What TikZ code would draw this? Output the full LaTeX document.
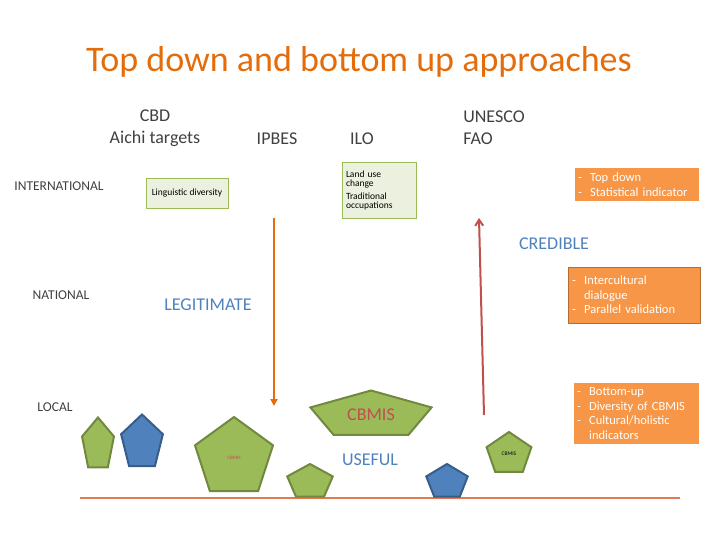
\documentclass[tikz,border=0pt]{standalone}
\usepackage{fontspec}
\setmainfont{Carlito}
\usetikzlibrary{shapes.geometric,positioning,arrows.meta}
\definecolor{titleor}{HTML}{E46C0A}
\definecolor{txtgray}{HTML}{404040}
\definecolor{accblue}{HTML}{4F81BD}
\definecolor{pgreen}{HTML}{9BBB59}
\definecolor{pgreenline}{HTML}{71893F}
\definecolor{pblueline}{HTML}{385D8A}
\definecolor{boxor}{HTML}{F79646}
\definecolor{boxorline}{HTML}{B66D31}
\definecolor{lightgreen}{HTML}{EBF1DE}
\definecolor{redarrow}{HTML}{C0504D}
\definecolor{textred}{HTML}{C0504D}
\tikzset{
  level/.style={text=txtgray, font=\fontsize{13.5}{15}\selectfont},
  body/.style={text=txtgray, font=\fontsize{18}{22}\selectfont, align=center},
  quality/.style={text=accblue, font=\fontsize{18}{20}\selectfont},
  gbox/.style={draw=pgreen, fill=lightgreen, line width=0.8pt, font=\fontsize{9.5}{9}\selectfont, align=left, inner sep=3pt},
  obox/.style={fill=boxor, text=white, font=\fontsize{12.5}{14.5}\selectfont, align=left, inner sep=3pt},
  pent/.style={regular polygon, regular polygon sides=5, inner sep=0pt, line width=2pt},
  gpent/.style={pent, fill=pgreen, draw=pgreenline},
  bpent/.style={pent, fill=accblue, draw=pblueline},
  pentlabel/.style={text=textred},
}
\begin{document}
\begin{tikzpicture}[x=1pt,y=-1pt]
  \useasboundingbox (0,0) rectangle (720,540);

  % title and headings
  \node (title) at (359,62) [text=titleor, font=\fontsize{36}{38}\selectfont] {Top down and bottom up approaches};
  \node (cbd) at (155,128) [body] {CBD\\Aichi targets};
  \node (ipbes) at (277,139) [body] {IPBES};
  \node (ilo) at (362,139) [body] {ILO};
  \node (unesco) at (494,128) [body, align=left] {UNESCO\\FAO};

  % levels
  \node (intl) at (59,186) [level] {INTERNATIONAL};
  \node (natl) at (61,295) [level] {NATIONAL};
  \node (locl) at (55,407) [level] {LOCAL};

  % green boxes
  \node (ling) at (187,193) [gbox, minimum width=82pt, minimum height=30pt] {Linguistic diversity};
  \node (land) at (379,190) [gbox, minimum width=74pt, minimum height=56pt, text width=66pt] {Land use\\change\\[4pt]Traditional\\occupations};

  % orange boxes
  \node (topd) at (637,184.5) [obox, minimum width=124pt, minimum height=33pt, text width=118pt] {-\ \ Top down\\-\ \ Statistical indicator};
  \node (inter) at (634,295) [obox, draw=boxorline, line width=1pt, minimum width=132pt, minimum height=56pt, text width=124pt] {-\ \ Intercultural\\\phantom{-\ \ }dialogue\\-\ \ Parallel validation};
  \node (botu) at (636.5,413.5) [obox, minimum width=125pt, minimum height=61pt, text width=119pt] {-\ \ Bottom-up\\-\ \ Diversity of CBMIS\\-\ \ Cultural/holistic\\\phantom{-\ \ }indicators};

  % qualities
  \node (cred) at (554,244) [quality] {CREDIBLE};
  \node (legit) at (208,305) [quality] {LEGITIMATE};
  \node (useful) at (370,460) [quality] {USEFUL};

  % arrows
  \coordinate (dtop) at (274,218);
  \coordinate (dbot) at (274,406);
  \draw [titleor, line width=2pt, -{Triangle[length=7pt,width=7pt]}] (dtop) -- (dbot);
  \coordinate (ubot) at (484,415);
  \coordinate (utop) at (479,218);
  \draw [redarrow, line width=2pt, -{Straight Barb[length=6pt,width=8pt]}] (ubot) -- (utop);

  % ground line
  \coordinate (gl) at (80,498);
  \coordinate (gr) at (680,498);
  \draw [color={rgb,255:red,224;green,123;blue,84}, line width=2.5pt] (gl) -- (gr);

  % pentagons
  \node (p1) at (98,445) [gpent, minimum size=55pt, xscale=0.61] {};
  \node (p2) at (142,443) [bpent, minimum size=57pt, xscale=0.77] {};
  \node (p3) at (234,458) [gpent, minimum size=82pt] {};
  \node [pentlabel, font=\fontsize{5}{5}\selectfont] at (p3.center) {CBMIS};
  \node (p4) at (310,482) [gpent, minimum size=36pt, xscale=1.33] {};
  \node (p5) at (371,415) [gpent, minimum size=49pt, xscale=2.6] {};
  \node [pentlabel, font=\fontsize{18}{18}\selectfont] at (p5.center) {CBMIS};
  \node (p6) at (447,482) [bpent, minimum size=36pt, xscale=1.21] {};
  \node (p7) at (509,454) [gpent, minimum size=44pt, xscale=1.07] {};
  \node [text=black, font=\fontsize{5.5}{5}\selectfont] at (p7.center) {CBMIS};
\end{tikzpicture}
\end{document}
